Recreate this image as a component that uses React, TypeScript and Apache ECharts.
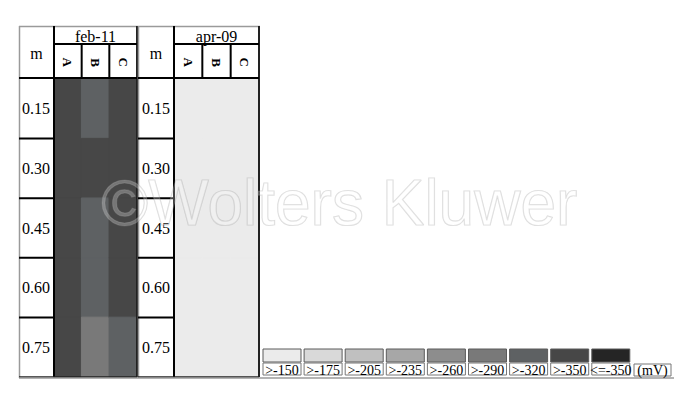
import { useEffect, useRef } from "react";
import * as echarts from "echarts";

type EChartsOption = echarts.EChartsOption;

// depth rows (m) and electrode columns
const depthLabels = ["0.15", "0.30", "0.45", "0.60", "0.75"];
const probeLabels = ["A", "B", "C"];

// half-cell potentials (mV), read top to bottom per column
const feb11A = [-340, -340, -340, -340, -340];
const feb11B = [-310, -340, -305, -305, -280];
const feb11C = [-340, -340, -340, -340, -310];
const apr09A = [-120, -120, -120, -120, -120];
const apr09B = [-120, -120, -120, -120, -120];
const apr09C = [-120, -120, -120, -120, -120];

// colour classes
const legendLabels = [">-150", ">-175", ">-205", ">-235", ">-260", ">-290", ">-320", ">-350", "<=-350"];
const legendThresholds = [-150, -175, -205, -235, -260, -290, -320, -350];
const legendColors = [
  "#ebebeb",
  "#d9d9d9",
  "#c0c0c0",
  "#a7a7a7",
  "#8d8d8d",
  "#797979",
  "#5e6163",
  "#474747",
  "#252525",
];

const SERIF = '"Liberation Serif", "DejaVu Serif", serif';

// table layout
const TOP = 26;
const HEAD1 = 44;
const DATA_TOP = 79;
const DATA_H = 298;
const BOTTOM = DATA_TOP + DATA_H;
const tables = [
  { left: 19, mRight: 54, right: 137, title: "feb-11" },
  { left: 138, mRight: 174, right: 259, title: "apr-09" },
];

function colorFor(v: number) {
  for (let i = 0; i < legendThresholds.length; i++) {
    if (v > legendThresholds[i]) return legendColors[i];
  }
  return legendColors[legendColors.length - 1];
}

function toCells(cols: number[][]) {
  const out: any[] = [];
  cols.forEach((col, x) =>
    col.forEach((v, y) =>
      // border in the cell's own colour hides the anti-aliasing seams
      out.push({ value: [x, y, v], itemStyle: { borderColor: colorFor(v), borderWidth: 1 } })
    )
  );
  return out;
}

export default function App() {
  const chartRef = useRef<HTMLDivElement>(null);

  useEffect(() => {
    if (!chartRef.current) return;
    document.body.style.margin = "0";
    const chart = echarts.init(chartRef.current, null, { renderer: "svg" });

    const pieces = legendColors.map((color, i) => {
      if (i === legendColors.length - 1) return { lte: legendThresholds[i - 1], color };
      if (i === 0) return { gt: legendThresholds[0], color };
      return { gt: legendThresholds[i], lte: legendThresholds[i - 1], color };
    });

    const rowH = DATA_H / depthLabels.length;
    const graphic: any[] = [];
    const line = (x1: number, y1: number, x2: number, y2: number, stroke = "#000", lineWidth = 2) =>
      graphic.push({
        type: "line",
        z: 100,
        shape: { x1, y1, x2, y2 },
        style: { stroke, lineWidth },
      });

    tables.forEach((t) => {
      const colW = (t.right - t.mRight) / probeLabels.length;
      // outer grey frame
      line(t.left + 0.5, TOP, t.left + 0.5, BOTTOM + 1, "#9a9a9a", 1.5);
      line(t.left, TOP + 0.5, t.right + 1, TOP + 0.5, "#9a9a9a", 1.5);
      // cell borders
      line(t.mRight, TOP, t.mRight, BOTTOM);
      line(t.right, TOP, t.right, BOTTOM, "#222", 2);
      line(t.mRight, HEAD1, t.right, HEAD1);
      line(t.left, DATA_TOP - 1, t.right, DATA_TOP - 1);
      for (let i = 1; i < probeLabels.length; i++) {
        const x = t.mRight + colW * i;
        line(x, HEAD1, x, DATA_TOP - 1);
      }
      for (let k = 1; k < depthLabels.length; k++) {
        const y = DATA_TOP + rowH * k;
        line(t.left, y, t.mRight, y);
      }
      line(t.left, BOTTOM, t.right, BOTTOM, "#222", 1.5);
      // header texts
      graphic.push({
        type: "text",
        z: 101,
        x: (t.left + t.mRight) / 2,
        y: (TOP + DATA_TOP) / 2 + 1,
        style: { text: "m", font: `16px ${SERIF}`, fill: "#000", align: "center", verticalAlign: "middle" },
      });
      graphic.push({
        type: "text",
        z: 101,
        x: (t.mRight + t.right) / 2,
        y: (TOP + HEAD1) / 2 + 1,
        style: { text: t.title, font: `16px ${SERIF}`, fill: "#000", align: "center", verticalAlign: "middle" },
      });
    });
    // long bottom rule
    line(19, BOTTOM + 1, 674, BOTTOM + 1, "#9a9a9a", 1.5);

    // legend
    legendLabels.forEach((label, i) => {
      const x = 263 + i * 41.1;
      graphic.push({
        type: "rect",
        z: 101,
        shape: { x, y: 349, width: 38, height: 13 },
        style: { fill: legendColors[i], stroke: "#5a5a5a", lineWidth: 1 },
      });
      graphic.push({
        type: "rect",
        z: 101,
        shape: { x, y: 363, width: 38, height: 12 },
        style: { fill: "#fff", stroke: "#777", lineWidth: 1 },
      });
      graphic.push({
        type: "text",
        z: 102,
        x: x + 19,
        y: 370,
        style: { text: label, font: `14px ${SERIF}`, fill: "#000", align: "center", verticalAlign: "middle" },
      });
    });
    graphic.push({
      type: "rect",
      z: 101,
      shape: { x: 634, y: 364, width: 37, height: 12 },
      style: { fill: "#fff", stroke: "#777", lineWidth: 1 },
    });
    graphic.push({
      type: "text",
      z: 102,
      x: 652.5,
      y: 370.5,
      style: { text: "(mV)", font: `14px ${SERIF}`, fill: "#000", align: "center", verticalAlign: "middle" },
    });

    // watermark
    graphic.push({
      type: "text",
      z: 200,
      x: 101,
      y: 203,
      style: {
        text: "©Wolters Kluwer",
        font: '64px "Liberation Sans", Arial, sans-serif',
        fill: "rgba(255,255,255,0.26)",
        stroke: "rgba(140,140,140,0.3)",
        lineWidth: 1.2,
        verticalAlign: "middle",
      },
    });

    const xAxisFor = (gridIndex: number) => ({
      type: "category" as const,
      gridIndex,
      data: probeLabels,
      position: "top" as const,
      axisLine: { show: false },
      axisTick: { show: false },
      splitLine: { show: false },
      axisLabel: {
        rotate: 90,
        margin: 12,
        fontFamily: SERIF,
        fontSize: 13,
        fontWeight: "bold" as const,
        color: "#000",
      },
    });
    const yAxisFor = (gridIndex: number) => ({
      type: "category" as const,
      gridIndex,
      data: depthLabels,
      inverse: true,
      axisLine: { show: false },
      axisTick: { show: false },
      splitLine: { show: false },
      axisLabel: {
        align: "left" as const,
        margin: 32,
        fontFamily: SERIF,
        fontSize: 16,
        color: "#000",
      },
    });

    const option: EChartsOption = {
      animation: false,
      backgroundColor: "#fff",
      grid: tables.map((t) => ({
        left: t.mRight,
        top: DATA_TOP,
        width: t.right - t.mRight,
        height: DATA_H,
        show: false,
      })),
      xAxis: [xAxisFor(0), xAxisFor(1)],
      yAxis: [yAxisFor(0), yAxisFor(1)],
      visualMap: {
        type: "piecewise",
        show: false,
        dimension: 2,
        seriesIndex: [0, 1],
        pieces,
      },
      series: [
        {
          type: "heatmap",
          xAxisIndex: 0,
          yAxisIndex: 0,
          data: toCells([feb11A, feb11B, feb11C]),
        },
        {
          type: "heatmap",
          xAxisIndex: 1,
          yAxisIndex: 1,
          data: toCells([apr09A, apr09B, apr09C]),
        },
      ],
      graphic,
    };

    chart.setOption(option);

    return () => {
      chart.dispose();
    };
  }, []);

  return <div ref={chartRef} style={{ width: 674, height: 407 }} />;
}
